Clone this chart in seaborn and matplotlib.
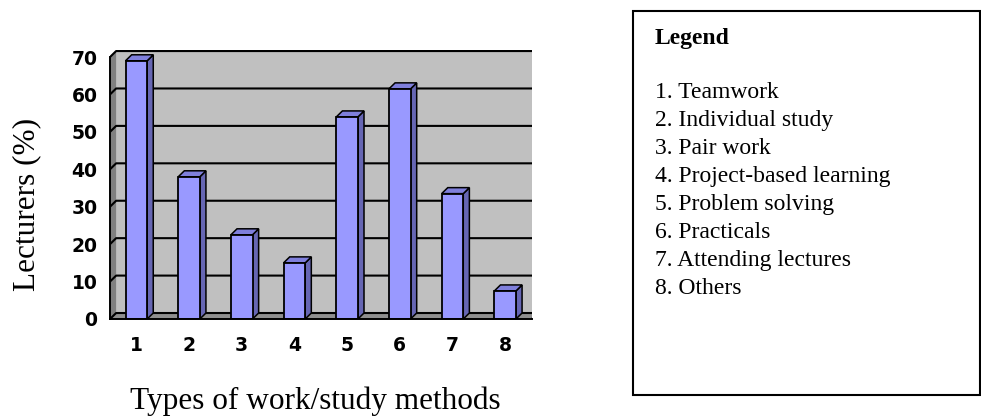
import matplotlib
matplotlib.use("Agg")
import matplotlib.pyplot as plt
from matplotlib.patches import Polygon, Rectangle
import pandas as pd
import seaborn as sns

# Survey results: share of lecturers using each type of work/study method
methods = ["1", "2", "3", "4", "5", "6", "7", "8"]
lecturers_pct = [69, 38, 22.5, 15, 54, 61.5, 33.5, 7.5]
y_ticks = [0, 10, 20, 30, 40, 50, 60, 70]
legend_title = "Legend"
legend_items = [
    "1. Teamwork",
    "2. Individual study",
    "3. Pair work",
    "4. Project-based learning",
    "5. Problem solving",
    "6. Practicals",
    "7. Attending lectures",
    "8. Others",
]

sns.set_style("white")
plt.rcParams["font.family"] = ["DejaVu Sans"]

W, H = 981, 416
fig = plt.figure(figsize=(W / 100, H / 100), dpi=100)

# pseudo-3D depth offset (in data units: categories / percent)
DX, DY = 0.116, 1.6
YMAX = y_ticks[-1]
n = len(methods)

ax = fig.add_axes([110 / W, (H - 319) / H, 421.5 / W, 268.7 / H])
ax.set_xlim(-0.5, n - 0.5 + DX + 0.01)
ax.set_ylim(0, YMAX + DY + 0.2)
ax.patch.set_alpha(0)

# walls and floor
back_wall = Polygon([(-0.5 + DX, DY), (n - 0.5 + DX, DY),
                     (n - 0.5 + DX, YMAX + DY), (-0.5 + DX, YMAX + DY)],
                    closed=True, facecolor="#c0c0c0", edgecolor="none", zorder=0.5)
side_wall = Polygon([(-0.5, 0), (-0.5 + DX, DY), (-0.5 + DX, YMAX + DY), (-0.5, YMAX)],
                    closed=True, facecolor="#808080", edgecolor="none", zorder=0.5)
floor = Polygon([(-0.5, 0), (n - 0.5, 0), (n - 0.5 + DX, DY), (-0.5 + DX, DY)],
                closed=True, facecolor="#8f8f8f", edgecolor="none", zorder=0.6)
for p in (back_wall, side_wall, floor):
    ax.add_patch(p)

# gridlines on back wall, with the step across the side wall
for v in y_ticks:
    ax.plot([-0.5, -0.5 + DX, n - 0.5 + DX], [v, v + DY, v + DY],
            color="black", lw=1.5, zorder=1, solid_capstyle="butt")
ax.plot([n - 0.5 + DX, n - 0.5 + DX], [DY, YMAX + DY], color="#7a7a7a", lw=1.5, zorder=1)
ax.plot([n - 0.5, n - 0.5 + DX], [0, DY], color="black", lw=1.2, zorder=1)

# front faces of the columns
df = pd.DataFrame({"method": methods, "pct": lecturers_pct})
sns.barplot(data=df, x="method", y="pct", order=methods, color="#9999ff",
            saturation=1, width=0.41, edgecolor="black", linewidth=1.3,
            ax=ax, zorder=3)

# side and top faces derived from each drawn bar
for bar in list(ax.patches):
    if not hasattr(bar, "get_width") or bar in (back_wall, side_wall, floor):
        continue
    x0 = bar.get_x()
    w = bar.get_width()
    h = bar.get_height()
    x1 = x0 + w
    side = Polygon([(x1, 0), (x1 + DX, DY), (x1 + DX, h + DY), (x1, h)],
                   closed=True, facecolor="#6666b3", edgecolor="black", lw=1.1, zorder=2.9)
    top = Polygon([(x0, h), (x1, h), (x1 + DX, h + DY), (x0 + DX, h + DY)],
                  closed=True, facecolor="#7f7fdc", edgecolor="black", lw=1.1, zorder=2.9)
    ax.add_patch(side)
    ax.add_patch(top)

# axes styling
for s in ("top", "right"):
    ax.spines[s].set_visible(False)
ax.spines["left"].set_bounds(0, YMAX)
ax.spines["bottom"].set_bounds(-0.5, n - 0.5)
for s in ("left", "bottom"):
    ax.spines[s].set_color("black")
    ax.spines[s].set_linewidth(1.4)
    ax.spines[s].set_zorder(4)

ax.set_yticks(y_ticks)
ax.set_yticklabels([str(v) for v in y_ticks])
ax.set_xticks(range(n))
ax.set_xticklabels(methods)
ax.set_xticks([i - 0.5 for i in range(n + 1)], minor=True)
ax.tick_params(axis="y", which="major", direction="out", length=4, width=1.2,
               color="black", labelcolor="black", pad=5, labelsize=13.5)
ax.tick_params(axis="x", which="major", length=0, pad=12, labelsize=13.5,
               labelcolor="black")
ax.tick_params(axis="x", which="minor", direction="out", length=4, width=1.2,
               color="black")
for lab in ax.get_xticklabels() + ax.get_yticklabels():
    lab.set_fontweight("bold")
ax.set_xlabel("")
ax.set_ylabel("")

# axis titles
fig.text(27 / W, (H - 204) / H, "Lecturers (%)", rotation=90, ha="center", va="center",
         family="Liberation Serif", fontsize=22.5, color="black")
fig.text(315 / W, (H - 409) / H, "Types of work/study methods", ha="center", va="baseline",
         family="Liberation Serif", fontsize=22.5, color="black")

# legend panel
fig.patches.append(Rectangle((633 / W, (H - 395) / H), (979.5 - 633) / W, (395 - 11) / H,
                             transform=fig.transFigure, facecolor="white",
                             edgecolor="black", lw=1.5, zorder=0))
fig.text(655 / W, (H - 44.3) / H, legend_title, ha="left", va="baseline",
         family="Liberation Serif", fontweight="bold", fontsize=17, color="black")
for i, item in enumerate(legend_items):
    fig.text(655 / W, (H - (98.3 + 27.9 * i)) / H, item, ha="left", va="baseline",
             family="Liberation Serif", fontsize=17, color="black")

fig.savefig("out.png", dpi=100)
